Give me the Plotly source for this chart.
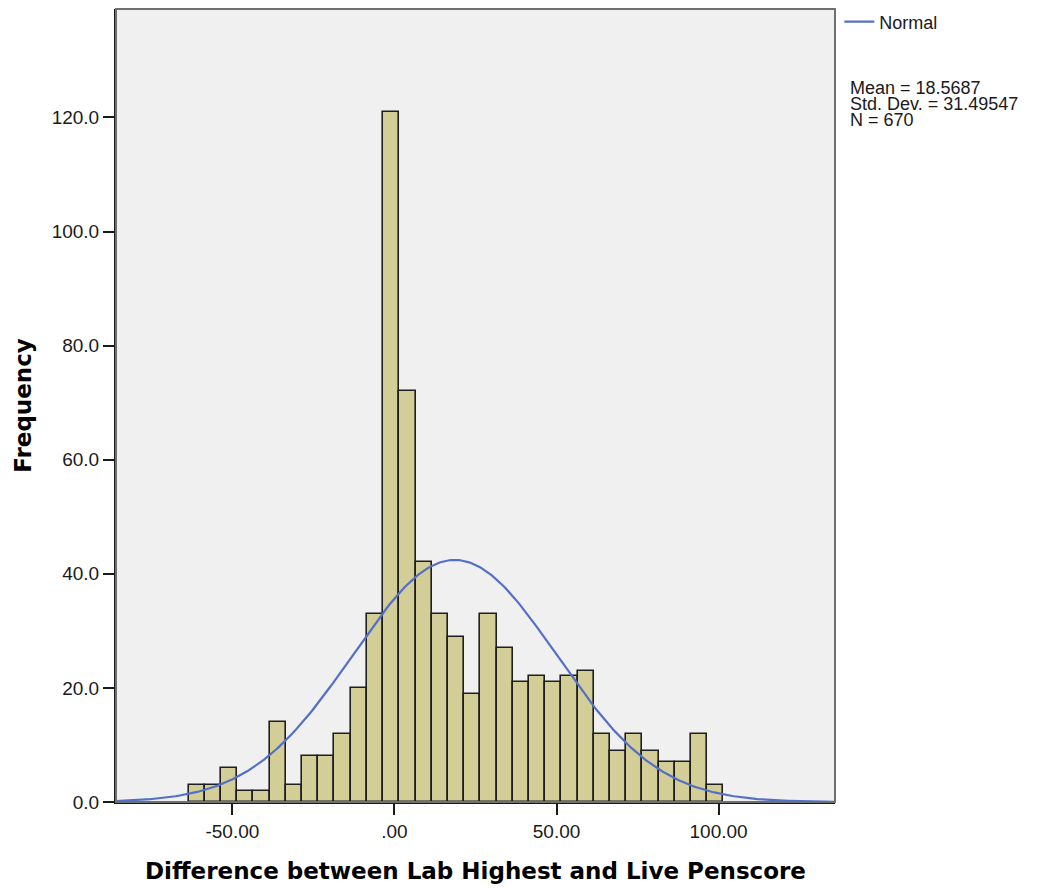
import numpy as np
import plotly.graph_objects as go

# Histogram of differences (bin width 5)
BIN_START = -63.5
BIN_WIDTH = 5.0
COUNTS = [3, 3, 6, 2, 2, 14, 3, 8, 8, 12, 20, 33, 121, 72, 42, 33, 29,
          19, 33, 27, 21, 22, 21, 22, 23, 12, 9, 12, 9, 7, 7, 12, 3]

# Summary statistics printed beside the chart
MEAN = 18.5687
STD_DEV = 31.49547
N_OBS = 670
STATS_LINES = ["Mean = 18.5687", "Std. Dev. = 31.49547", "N = 670"]

X_TICKS = [-50, 0, 50, 100]
X_TICK_TEXT = ["-50.00", ".00", "50.00", "100.00"]
Y_TICKS = [0, 20, 40, 60, 80, 100, 120]
Y_TICK_TEXT = ["0.0", "20.0", "40.0", "60.0", "80.0", "100.0", "120.0"]

X_RANGE = [-85.9, 135.9]
Y_RANGE = [0, 139.0]

# page body adds an 8px margin, so the figure itself is a bit smaller
W, H = 1031, 880
L, R, T, B = 108, 204, 1, 86
PLOT_W = W - L - R
PLOT_H = H - T - B

centers = [BIN_START + BIN_WIDTH * (i + 0.5) for i in range(len(COUNTS))]

# SPSS normal overlay: scaled to counts per bin
xs = np.linspace(X_RANGE[0], X_RANGE[1], 400)
ys = N_OBS * BIN_WIDTH / (STD_DEV * np.sqrt(2 * np.pi)) * np.exp(
    -0.5 * ((xs - MEAN) / STD_DEV) ** 2
)

bars = go.Bar(
    x=centers,
    y=COUNTS,
    width=BIN_WIDTH,
    marker={"color": "#d3ce97", "line": {"color": "#1e1e1e", "width": 1.6}},
    showlegend=False,
    hoverinfo="x+y",
)
curve = go.Scatter(
    x=xs,
    y=ys,
    mode="lines",
    line={"color": "#5470c6", "width": 2.2},
    name="Normal",
    showlegend=True,
)

fig = go.Figure(data=[bars, curve])

axis_font = {"family": "Arial, Liberation Sans, sans-serif", "size": 19, "color": "#1a1a1a"}
title_font = {"family": "DejaVu Sans, sans-serif", "size": 23, "color": "#000000"}

fig.update_xaxes(
    range=X_RANGE,
    tickvals=X_TICKS,
    ticktext=X_TICK_TEXT,
    ticks="outside",
    ticklen=11,
    tickwidth=2,
    tickcolor="#1a1a1a",
    showline=True,
    linecolor="#1a1a1a",
    linewidth=2,
    showgrid=False,
    zeroline=False,
    tickfont=axis_font,
    title={"text": "<b>Difference between Lab Highest and Live Penscore</b>",
           "font": title_font, "standoff": 22},
)
fig.update_yaxes(
    range=Y_RANGE,
    tickvals=Y_TICKS,
    ticktext=Y_TICK_TEXT,
    ticks="outside",
    ticklen=11,
    tickwidth=2,
    tickcolor="#1a1a1a",
    showline=True,
    linecolor="#1a1a1a",
    linewidth=2,
    showgrid=False,
    zeroline=False,
    tickfont=axis_font,
    title={"text": "<b>Frequency</b>", "font": title_font, "standoff": 14},
)

# gray frame on top / right of the plot box
fig.add_shape(
    type="rect", xref="paper", yref="paper", x0=0, y0=0, x1=1, y1=1,
    line={"color": "#707070", "width": 2}, layer="above",
)

# stats block (screen pixels -> paper coords, plot box at 116..835 / 9..802)
for k, line in enumerate(STATS_LINES):
    py = 88 + 16 * k
    fig.add_annotation(
        text=line, xref="paper", yref="paper",
        x=(848 - 116) / PLOT_W, y=(802 - py) / PLOT_H,
        xanchor="left", yanchor="middle", showarrow=False,
        font={"family": "Arial, Liberation Sans, sans-serif", "size": 18, "color": "#1a1a1a"},
    )

fig.update_layout(
    width=W,
    height=H,
    margin={"l": L, "r": R, "t": T, "b": B, "autoexpand": False},
    paper_bgcolor="white",
    plot_bgcolor="#f0f0f0",
    bargap=0,
    legend={
        "x": 1.006, "y": 1.007, "xanchor": "left", "yanchor": "top",
        "font": {"family": "Arial, Liberation Sans, sans-serif", "size": 18, "color": "#1a1a1a"},
        "bgcolor": "rgba(0,0,0,0)",
        "itemwidth": 30,
    },
)

fig.write_html("out.html")
